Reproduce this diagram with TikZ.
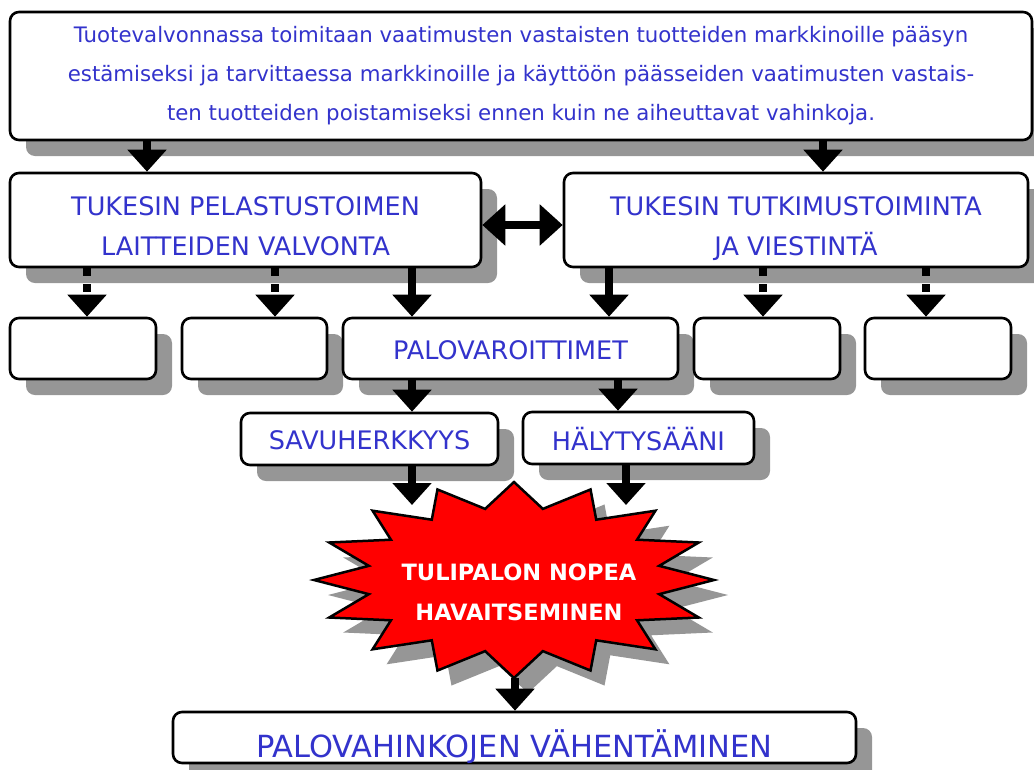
\documentclass[tikz,border=0pt]{standalone}
\usepackage{fontspec}
\setmainfont{DejaVu Sans}
\usetikzlibrary{arrows.meta,shadows}
\definecolor{tukesblue}{RGB}{51,51,204}
\definecolor{shadowgray}{RGB}{150,150,150}
\begin{document}
\begin{tikzpicture}[x=1pt,y=-1pt,
		box/.style={draw, line width=2.6pt, rounded corners=9pt, fill=white, inner sep=0pt,
			text=tukesblue, align=center,
			general shadow={fill=shadowgray, shadow xshift=16pt, shadow yshift=-16pt}},
		caps/.style={font=\fontsize{25.5}{40}\selectfont, text height=21pt, text depth=0pt},
		twolines/.style={font=\fontsize{25.5}{40}\selectfont, text height=70pt, text depth=0pt},
		bigarrow/.style={line width=8pt, -{Triangle[width=38pt,length=22pt]}},
		dasharrow/.style={bigarrow, dash pattern=on 8pt off 8pt},
		twoarrow/.style={line width=8pt, {Triangle[width=40pt,length=23pt]}-{Triangle[width=40pt,length=23pt]}}]
		\useasboundingbox (0,0) rectangle (1034,769);
		\def\firestar{plot[samples at={0,...,31}, variable=\k]
			({514+(1-0.26*mod(\k,2))*200*sin(11.25*\k)}, {580-(1-0.26*mod(\k,2))*98*cos(11.25*\k)}) -- cycle}
		% boxes
		\node[box, minimum width=1022pt, minimum height=128pt, font=\fontsize{21.3}{39}\selectfont] (top) at (521,76)
			{Tuotevalvonnassa toimitaan vaatimusten vastaisten tuotteiden markkinoille pääsyn\\
			estämiseksi ja tarvittaessa markkinoille ja käyttöön päässeiden vaatimusten vastais-\\
			ten tuotteiden poistamiseksi ennen kuin ne aiheuttavat vahinkoja.};
		\node[box, twolines, minimum width=471pt, minimum height=94pt] (pelastus) at (245.5,220)
			{TUKESIN PELASTUSTOIMEN\\LAITTEIDEN VALVONTA};
		\node[box, twolines, minimum width=464pt, minimum height=94pt] (tutkimus) at (796,220)
			{TUKESIN TUTKIMUSTOIMINTA\\JA VIESTINTÄ};
		\node[box, minimum width=146pt, minimum height=61pt] (empty1) at (83,348.5) {};
		\node[box, minimum width=145pt, minimum height=61pt] (empty2) at (254.5,348.5) {};
		\node[box, caps, minimum width=335pt, minimum height=61pt] (varoitin) at (510.5,348.5) {PALOVAROITTIMET};
		\node[box, minimum width=146pt, minimum height=61pt] (empty3) at (767,348.5) {};
		\node[box, minimum width=146pt, minimum height=61pt] (empty4) at (938,348.5) {};
		\node[box, caps, minimum width=257pt, minimum height=52pt] (savu) at (369.5,439) {SAVUHERKKYYS};
		\node[box, caps, text height=24pt, minimum width=231pt, minimum height=52pt] (haly) at (638.5,438) {HÄLYTYSÄÄNI};
		\node[box, font=\fontsize{30.5}{36}\selectfont, text height=40pt, text depth=0pt,
			minimum width=683pt, minimum height=51pt] (vahinko) at (514.5,737.5) {PALOVAHINKOJEN VÄHENTÄMINEN};
		% star
		\fill[shadowgray, shift={(14,15)}] \firestar;
		\draw[fill=red, line width=2.5pt] \firestar;
		\node[text=white, align=center, font=\bfseries\fontsize{22.5}{40}\selectfont] (havainto) at (519,592)
			{TULIPALON NOPEA\\HAVAITSEMINEN};
		\coordinate (starNW) at (412,505);
		\coordinate (starNE) at (626,505);
		\coordinate (starS) at (515,678);
		% arrows
		\draw[bigarrow] (top.south -| 147,0) -- (pelastus.north -| 147,0);
		\draw[bigarrow] (top.south -| 823,0) -- (tutkimus.north -| 823,0);
		\draw[twoarrow] ([yshift=-5pt]pelastus.east) -- ([yshift=-5pt]tutkimus.west);
		\draw[dasharrow] (pelastus.south -| 87,0) -- (empty1.north -| 87,0);
		\draw[dasharrow] (pelastus.south -| 275,0) -- (empty2.north -| 275,0);
		\draw[bigarrow] (pelastus.south -| 412,0) -- (varoitin.north -| 412,0);
		\draw[bigarrow] (tutkimus.south -| 609,0) -- (varoitin.north -| 609,0);
		\draw[dasharrow] (tutkimus.south -| 763,0) -- (empty3.north -| 763,0);
		\draw[dasharrow] (tutkimus.south -| 926,0) -- (empty4.north -| 926,0);
		\draw[bigarrow] (varoitin.south -| 412,0) -- (savu.north -| 412,0);
		\draw[bigarrow] (varoitin.south -| 618,0) -- (haly.north -| 618,0);
		\draw[bigarrow] (savu.south -| starNW) -- (starNW);
		\draw[bigarrow] (haly.south -| starNE) -- (starNE);
		\draw[bigarrow] (starS) -- (vahinko.north -| starS);
\end{tikzpicture}
\end{document}
